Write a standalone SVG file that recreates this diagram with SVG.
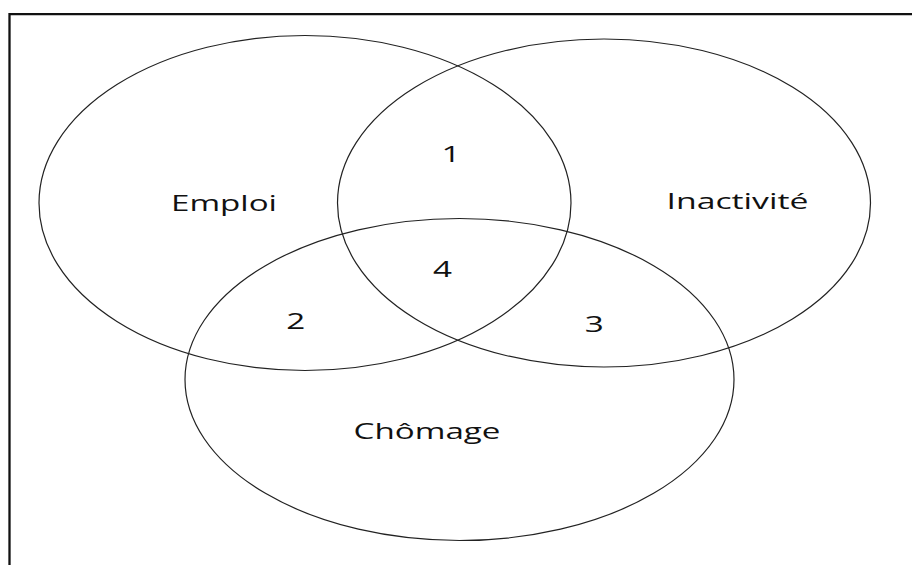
<svg xmlns="http://www.w3.org/2000/svg" width="912" height="565" viewBox="0 0 912 565">
<style>
.set{fill:none;stroke:#222;stroke-width:1.2}
.lbl{font-family:"Open Sans","Liberation Sans",sans-serif;font-size:22px;fill:#111}
.frame{fill:none;stroke:#111;stroke-width:2.3}
</style>
<rect x="0" y="0" width="912" height="565" fill="#fff"/>
<path class="frame" d="M9.5,565 V14.2 H912"/>
<g id="emploi">
<ellipse class="set" cx="305" cy="203" rx="266" ry="167.5"/>
<text class="lbl" x="171" y="210.7" textLength="106" lengthAdjust="spacingAndGlyphs">Emploi</text>
</g>
<g id="inactivite">
<ellipse class="set" cx="604" cy="203" rx="266.5" ry="164"/>
<text class="lbl" x="666.5" y="209.3" textLength="142" lengthAdjust="spacingAndGlyphs">Inactivité</text>
</g>
<g id="chomage">
<ellipse class="set" cx="459.5" cy="379.5" rx="274.5" ry="161"/>
<text class="lbl" x="353.5" y="439.3" textLength="147" lengthAdjust="spacingAndGlyphs">Chômage</text>
</g>
<g id="region1"><text class="lbl" x="441.5" y="162.3" textLength="19" lengthAdjust="spacingAndGlyphs">1</text></g>
<g id="region4"><text class="lbl" x="433" y="276.7" textLength="19" lengthAdjust="spacingAndGlyphs">4</text></g>
<g id="region2"><text class="lbl" x="286.3" y="329" textLength="19" lengthAdjust="spacingAndGlyphs">2</text></g>
<g id="region3"><text class="lbl" x="584.7" y="331.7" textLength="19" lengthAdjust="spacingAndGlyphs">3</text></g>
<g id="connectors"></g>
</svg>
